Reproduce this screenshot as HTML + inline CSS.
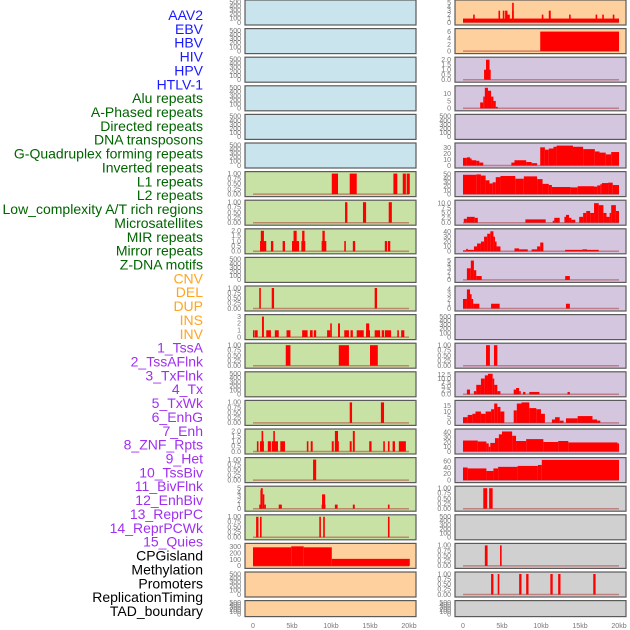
<!DOCTYPE html>
<html><head><meta charset="utf-8"><style>
html,body{margin:0;padding:0;background:#fff;}
svg{display:block;font-family:"Liberation Sans",sans-serif;}
</style></head><body>
<svg id="chart" width="630" height="630" viewBox="0 0 630 630" xmlns="http://www.w3.org/2000/svg"></svg>
<script>
const trackLabels = ["AAV2","EBV","HBV","HIV","HPV","HTLV-1","Alu repeats","A-Phased repeats","Directed repeats","DNA transposons","G-Quadruplex forming repeats","Inverted repeats","L1 repeats","L2 repeats","Low_complexity A/T rich regions","Microsatellites","MIR repeats","Mirror repeats","Z-DNA motifs","CNV","DEL","DUP","INS","INV","1_TssA","2_TssAFlnk","3_TxFlnk","4_Tx","5_TxWk","6_EnhG","7_Enh","8_ZNF_Rpts","9_Het","10_TssBiv","11_BivFlnk","12_EnhBiv","13_ReprPC","14_ReprPCWk","15_Quies","CPGisland","Methylation","Promoters","ReplicationTiming","TAD_boundary"];
const labelColors = ["#1a1aff","#1a1aff","#1a1aff","#1a1aff","#1a1aff","#1a1aff","#006400","#006400","#006400","#006400","#006400","#006400","#006400","#006400","#006400","#006400","#006400","#006400","#006400","#ffa520","#ffa520","#ffa520","#ffa520","#ffa520","#a030f0","#a030f0","#a030f0","#a030f0","#a030f0","#a030f0","#a030f0","#a030f0","#a030f0","#a030f0","#a030f0","#a030f0","#a030f0","#a030f0","#a030f0","#000","#000","#000","#000","#000"];
const xTickLabels = ["0","5kb","10kb","15kb","20kb"];
const xTickValues = [0,5,10,15,20];

const T500=["0","100","200","300","400","500"], T1=["0.00","0.25","0.50","0.75","1.00"], T2=["0.0","0.5","1.0","1.5","2.0"];
const leftTicks = [T500,T500,T500,T500,T500,T500,T1,T1,T2,T500,T1,["0","1","2","3"],T1,T500,T1,T2,T1,["0","1","2","3","4","5"],T1,["0","100","200","300"],T500,T500];
const leftMax = [500,500,500,500,500,500,1,1,2,500,1,3,1,500,1,2,1,5,1,320,500,500];
const rightTicks = [["0","1","2","3","4","5"],["0","2","4","6"],T2,["0","5","10"],T500,["0","10","20","30"],["0","10","20","30","40","50"],["0.0","2.5","5.0","7.5","10.0"],["0","10","20","30","40"],["0","1","2","3","4","5"],["0","1","2","3","4"],T500,T1,["0.0","2.5","5.0","7.5","10.0","12.5"],["0","5","10","15"],["0","10","20","30","40"],["0","20","40","60"],T1,T500,T1,T1,T500];
const rightMax = [5.2,6.3,2.05,14,500,35,52,10.5,42,5.3,4.3,500,1,13,18,43,65,1,500,1,1,500];

const leftSeries = [[],[],[],[],[],[],
 [[10.1,10.9,1],[12.4,13.3,1],[18.0,18.5,1],[19.2,19.6,1],[19.7,20.1,1]],
 [[11.8,12.1,1],[14.1,14.5,1],[17.4,17.8,1]],
 [[0.9,1.7,1],[1.0,1.4,2],[2.3,2.6,1],[3.8,4.1,1],[5.0,5.9,1],[5.2,5.6,2],[6.2,6.7,1],[6.3,6.6,2],[8.8,9.4,1],[8.9,9.2,2],[11.7,11.9,1],[12.8,13.1,1],[16.9,17.2,1],[17.3,17.6,1]],
 [],
 [[0.8,1.0,1],[2.4,2.7,1],[15.6,15.9,1]],
 [[0,0.1,1],[0.26,0.6,1],[1.15,1.4,3],[1.7,2.3,1],[2.8,3.3,1],[4.3,4.8,1],[6.3,7.0,1],[7.3,7.65,1],[7.8,8.1,1],[9.5,9.9,1],[9.9,10.1,2],[10.9,11.15,2],[11.7,12.3,1],[12.5,12.8,1],[13.3,14.2,1],[14.5,15.0,1],[14.5,14.9,2],[15.6,16.3,1],[16.5,16.8,1],[16.9,17.7,1],[18.5,18.7,1],[19.0,19.4,1]],
 [[4.2,4.8,1],[11.0,12.3,1],[15.0,16.0,1]],
 [],
 [[12.4,12.7,1],[16.4,16.8,1]],
 [[0.5,0.7,1],[0.9,1.4,1],[1.1,1.25,2],[1.9,2.3,1],[2.4,3.2,1],[2.6,2.8,2],[3.5,4.1,1],[6.9,7.1,1],[7.4,7.65,1],[10.1,10.35,1],[10.5,11.0,1],[10.5,10.9,2],[12.4,12.65,1],[12.8,13.05,2],[14.9,15.2,1],[16.7,16.9,1],[17.3,17.5,1],[17.9,18.2,1],[18.7,19.6,1]],
 [[7.7,8.1,1]],
 [[0.8,1.0,1],[0.95,1.1,4.5],[1.0,1.25,5],[1.25,1.45,3.5],[1.45,1.6,1],[3.3,3.7,1],[8.8,9.3,1],[8.85,9.25,3.5],[10.5,10.85,1],[12.8,13.05,1],[17.3,17.5,1]],
 [[0.4,0.7,1],[0.9,1.1,1],[8.5,8.7,1],[9.0,9.2,1],[17.3,17.5,1]],
 [[0,4.9,290],[4.9,6.5,305],[6.5,10.1,290],[10.1,20.1,110]],
 [],[]];

const rightSeries = [
 [[0,20,1],[1.3,1.5,2],[4.55,4.7,3],[5.1,5.3,3],[5.4,5.7,3],[5.7,6.0,2],[6.3,6.5,3],[6.3,6.45,5],[10.1,10.3,2],[11.0,11.25,3],[13.6,13.8,2],[17.0,17.2,2],[17.85,18.05,2],[19.2,19.4,2]],
 [[9.9,20,6]],
 [[2.7,3.55,1],[2.95,3.4,2]],
 [[2.2,2.6,4],[2.6,2.8,8],[2.8,3.2,14],[3.2,3.6,12],[3.6,3.9,8],[3.9,4.2,5],[4.2,4.45,1]],
 [],
 [[0,0.5,13],[0.5,0.9,14],[0.9,1.0,12],[1.0,1.7,9],[1.7,2.1,8],[2.1,2.6,5],[6.2,6.6,5],[6.6,8.1,9],[8.1,8.8,6],[8.8,9.5,4],[9.9,10.5,31],[10.5,11.0,27],[11.0,11.6,29],[11.6,12.0,32],[12.0,14.1,34],[14.1,15.4,32],[15.4,16.9,28],[16.9,17.5,24],[17.5,18.3,22],[18.3,19.0,19],[19.0,20,23]],
 [[0,1.7,49],[1.7,2.3,50],[2.3,2.9,47],[2.9,3.4,35],[3.4,3.8,27],[3.8,4.2,30],[4.2,4.8,43],[4.8,6.7,46],[6.7,7.8,39],[7.8,9.5,45],[9.5,10.2,38],[10.2,11.0,26],[11.0,11.4,23],[11.4,13.8,18],[13.8,14.7,17],[14.7,16.8,20],[16.8,17.2,19],[17.2,17.6,22],[17.6,17.8,25],[17.8,18.6,28],[18.6,19.2,29],[19.2,20,23]],
 [[0.1,0.5,2],[0.5,1.5,3],[1.5,1.9,2.5],[8.0,10.6,1.7],[11.5,11.7,1],[11.7,12.4,2.5],[13.0,13.2,3],[13.2,13.6,4],[13.6,13.9,2.5],[13.9,14.4,1.5],[14.9,15.4,3],[15.4,15.8,5],[15.8,16.3,6],[16.3,16.8,5],[16.8,17.4,10],[17.4,18.0,9],[18.0,18.4,5],[18.4,18.8,3],[18.8,19.0,5],[19.0,19.6,9],[19.6,20,6]],
 [[0,0.4,2],[0.4,0.6,5],[0.6,1.4,3],[1.4,1.8,10],[1.8,2.3,16],[2.3,2.7,20],[2.7,3.1,30],[3.1,3.5,36],[3.5,3.9,41],[3.9,4.1,30],[4.1,4.3,20],[4.3,4.8,10],[6.6,7.2,6],[7.2,8.3,4],[8.8,9.5,4],[9.5,9.9,10],[9.9,10.3,18],[13.1,15.3,3],[15.3,15.9,4],[15.9,17.4,3]],
 [[0.5,1.0,3],[1.0,1.4,5],[1.4,1.7,2.5],[1.7,2.4,1],[13.1,13.7,1]],
 [[0,0.5,2],[0.5,0.9,4],[0.9,1.1,3],[1.1,1.3,2],[1.3,2.1,1],[3.6,4.7,1],[13.2,13.7,1]],
 [],
 [[2.95,3.45,1],[3.97,4.4,1]],
 [[0.5,0.9,3],[1.4,1.7,2],[1.7,2.3,6],[2.3,2.8,10],[2.8,3.2,12],[3.2,3.8,13],[3.8,4.0,10],[4.0,4.4,6],[4.4,4.8,2],[6.5,6.8,3],[6.8,7.2,4],[7.2,7.4,2],[7.7,8.0,1.5],[8.5,9.8,1.5],[13.4,13.7,1.5]],
 [[0,0.6,5],[0.6,1.2,7],[1.2,1.6,8],[1.6,2.3,10],[2.3,2.9,8],[2.9,3.6,10],[3.6,4.0,12],[4.0,4.4,17],[4.4,4.8,14],[4.8,5.3,10],[6.5,6.9,11],[6.9,7.5,17],[7.5,8.5,18],[8.5,9.4,13],[9.4,10.0,12],[10.0,10.5,8],[11.4,11.8,3],[11.8,12.4,5],[12.4,12.9,2],[13.2,14.7,4],[14.7,16.6,6],[16.6,17.2,3],[17.2,17.6,2]],
 [[0,1.9,23],[1.9,3.0,21],[3.0,3.3,17],[3.3,3.5,10],[3.5,4.1,18],[4.1,4.6,28],[4.6,5.0,36],[5.0,6.3,42],[6.3,6.8,33],[6.8,8.1,22],[8.1,10.3,26],[10.3,12.2,20],[12.2,13.5,22],[13.5,19.8,19],[19.8,20,17]],
 [[0,0.6,40],[0.6,3.0,37],[3.0,3.9,29],[3.9,4.5,37],[4.5,7.0,42],[7.0,9.6,45],[9.6,10.1,48],[10.1,20,64]],
 [[2.6,3.1,1],[3.35,3.8,1]],
 [],
 [[2.8,3.15,1],[4.75,4.95,1]],
 [[3.6,3.9,1],[4.45,4.65,1],[7.2,7.5,1],[8.1,8.4,1],[11.2,11.5,1],[12.2,12.5,1],[16.7,17.0,1]],
 []];

const leftBg = ["#c9e4ec","#c9e4ec","#c9e4ec","#c9e4ec","#c9e4ec","#c9e4ec","#c8e1a4","#c8e1a4","#c8e1a4","#c8e1a4","#c8e1a4","#c8e1a4","#c8e1a4","#c8e1a4","#c8e1a4","#c8e1a4","#c8e1a4","#c8e1a4","#c8e1a4","#fed09e","#fed09e","#fed09e"];
const rightBg = ["#fed09e","#fed09e","#d5c6e0","#d5c6e0","#d5c6e0","#d5c6e0","#d5c6e0","#d5c6e0","#d5c6e0","#d5c6e0","#d5c6e0","#d5c6e0","#d5c6e0","#d5c6e0","#d5c6e0","#d5c6e0","#d5c6e0","#d0d0d0","#d0d0d0","#d0d0d0","#d0d0d0","#d0d0d0"];

const NS="http://www.w3.org/2000/svg";
const svg=document.getElementById('chart');
function mk(tag,attrs,parent){const e=document.createElementNS(NS,tag);for(const k in attrs)e.setAttribute(k,attrs[k]);(parent||svg).appendChild(e);return e;}

const labelG=mk('g',{});


trackLabels.forEach((t,i)=>{
  const el=mk('text',{x:203,y:20+i*13.86,'text-anchor':'end','font-size':'14',fill:labelColors[i]},labelG);
  el.textContent=t;
  
  
});

function drawColumn(x0,bgs,ticks,maxs,series,side){
  const W=171, xL=x0+8, xR=x0+164;
  const xs=v=>xL+(xR-xL)*v/20;
  for(let i=0;i<22;i++){
    const top=i*28.6, h=(i===21?16:25);
    const g=mk('g',{});
    
    
    const y0=top+h-2.5, y1=top+2;
    const ys=v=>y0-(y0-y1)*v/maxs[i];
    mk('rect',{x:x0,y:top,width:W,height:h,fill:bgs[i],stroke:'#5a5a5a','stroke-width':1.2},g);
    series[i].forEach(s=>{
      const xa=xs(s[0]), xb=xs(s[1]);
      const r=mk('rect',{x:xa,y:ys(s[2]),width:Math.max(1.6,xb-xa),height:y0-ys(s[2]),fill:'#ff0000'},g);
      
      
    });
    if(series[i].length) mk('line',{x1:xs(0),x2:xs(20),y1:y0,y2:y0,stroke:'rgba(170,30,30,0.45)','stroke-width':1.5},g);
    ticks[i].forEach(t=>{
      const tx=mk('text',{x:x0-4,y:ys(parseFloat(t))+2.3,'text-anchor':'end','font-size':'7',fill:'#777'},g);
      tx.textContent=t;
      
      
    });
  }
  xTickValues.forEach((v,k)=>{
    const tx=mk('text',{x:xs(v),y:628,'text-anchor':'middle','font-size':'7',fill:'#777'});
    tx.textContent=xTickLabels[k];
    
    
  });
}
drawColumn(245,leftBg,leftTicks,leftMax,leftSeries,'left');
drawColumn(455,rightBg,rightTicks,rightMax,rightSeries,'right');
</script>
</body></html>
